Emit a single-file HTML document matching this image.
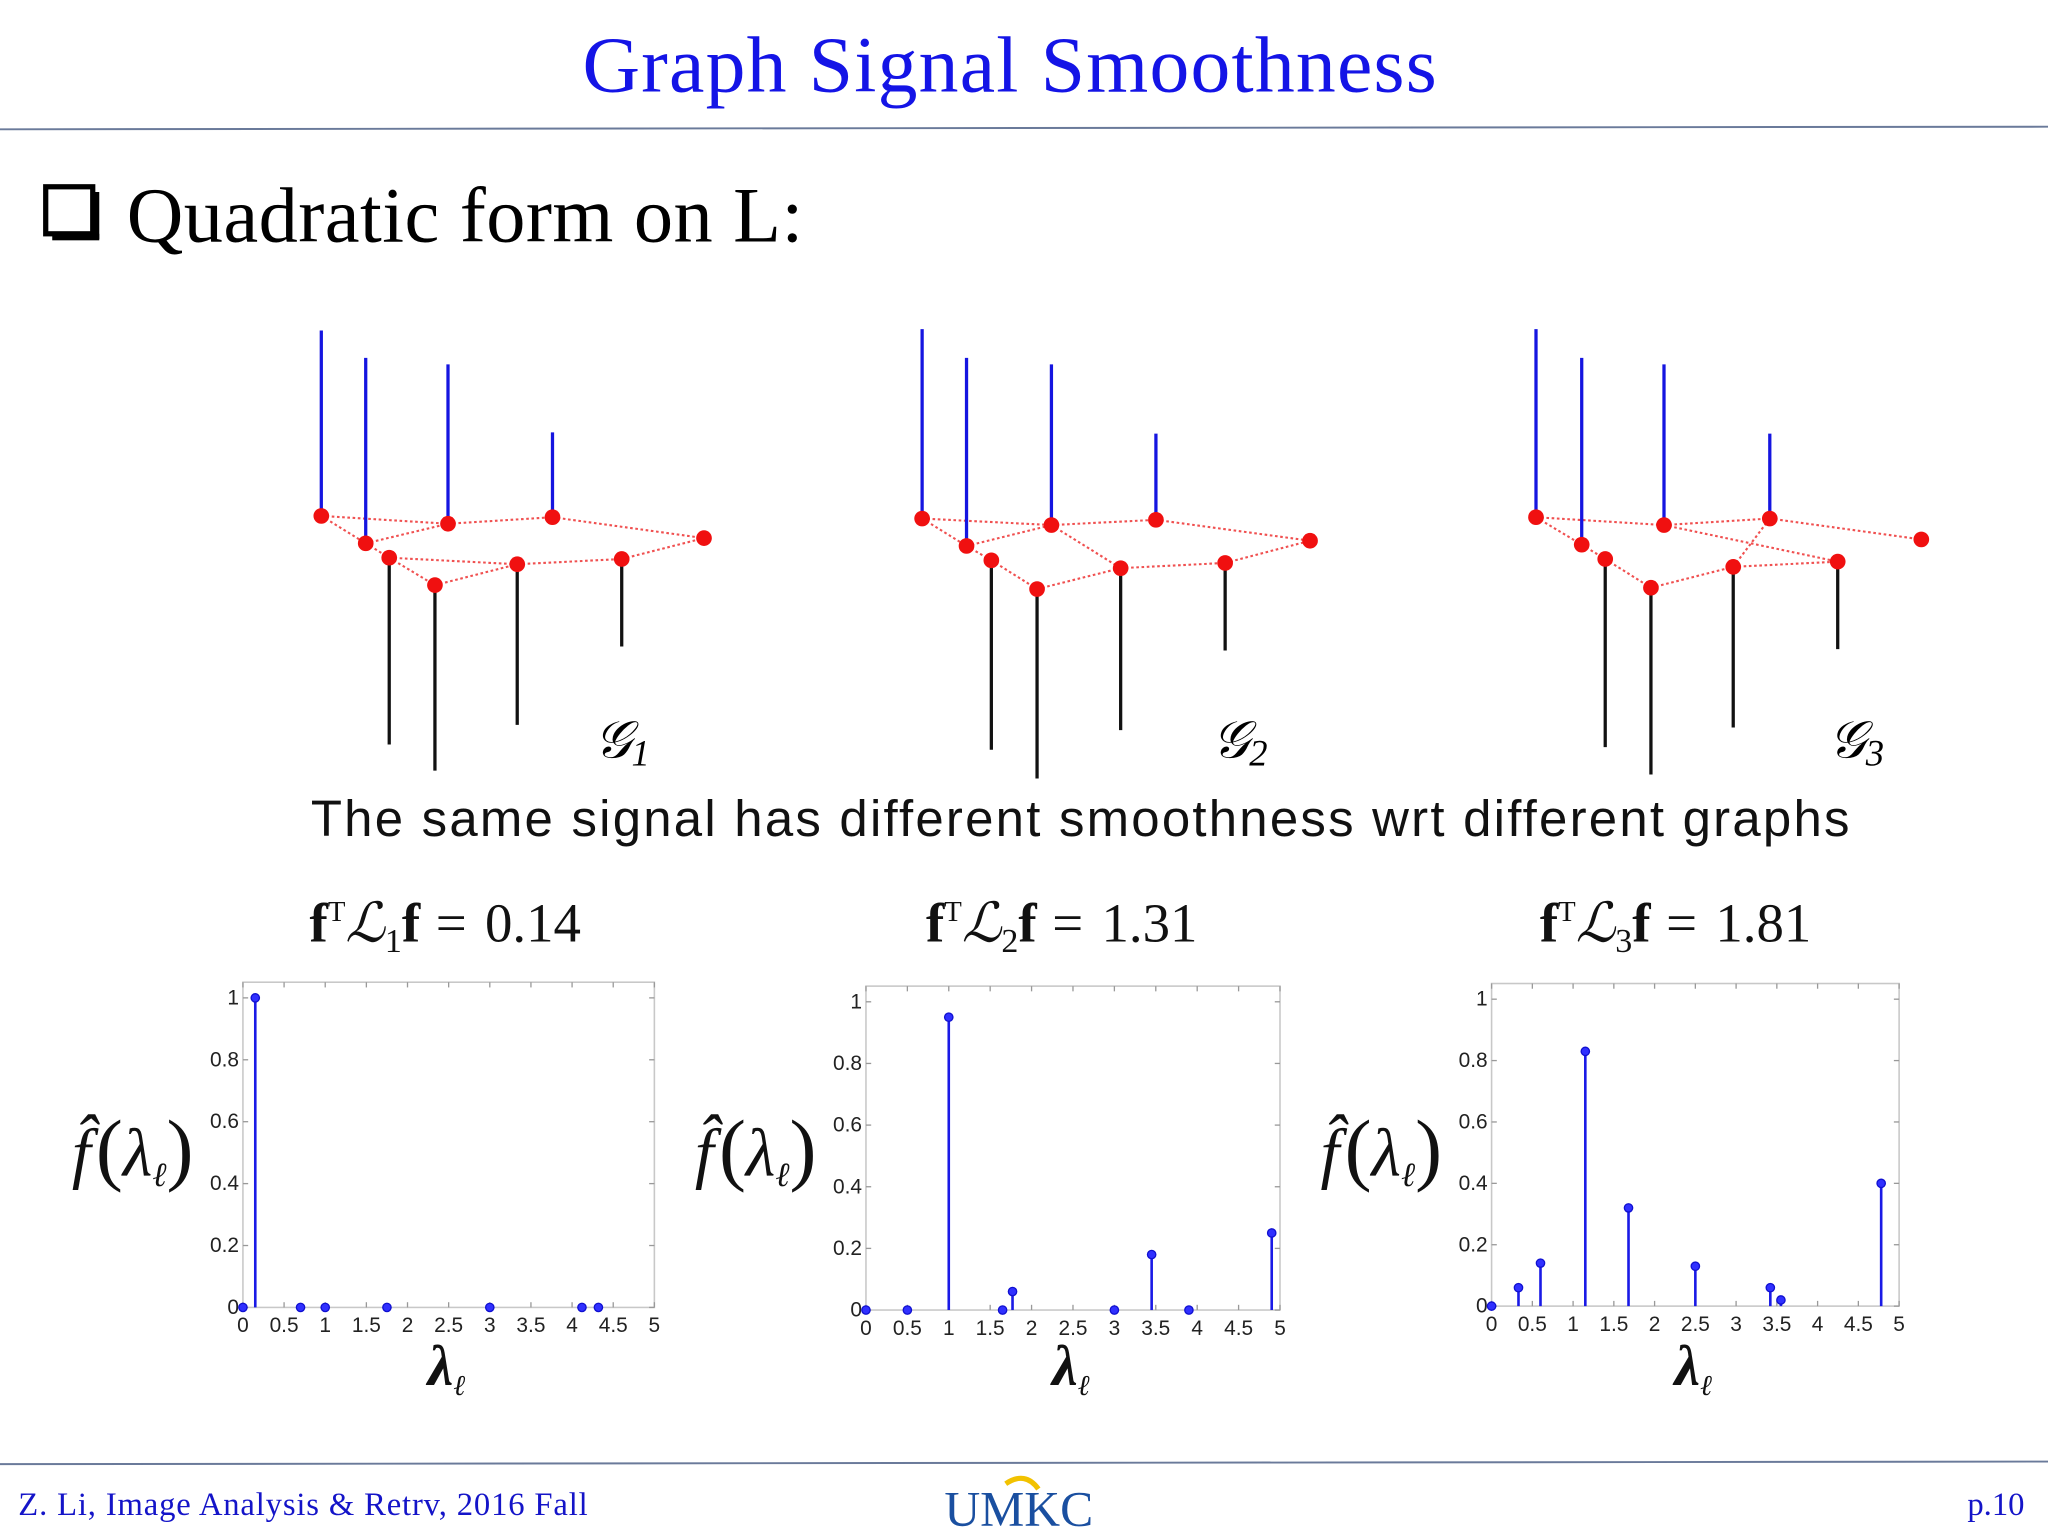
<!DOCTYPE html>
<html><head><meta charset="utf-8"><style>
html,body{margin:0;padding:0;background:#fff;}
svg{display:block;}
</style></head><body>
<svg id="page" width="2048" height="1536" viewBox="0 0 1568 1176" xmlns="http://www.w3.org/2000/svg" font-family="Liberation Sans, sans-serif">
<text x="773" y="70" text-anchor="middle" font-family="Liberation Serif, serif" font-size="61" textLength="654" fill="#1414e6">Graph Signal Smoothness</text>
<line x1="0" y1="99" x2="1568" y2="97" stroke="#6a7a9a" stroke-width="1.5"/>
<g>
<rect x="35" y="143" width="36" height="36" fill="none" stroke="#000" stroke-width="4"/>
<rect x="71" y="147" width="5" height="36" fill="#000"/><rect x="40" y="179" width="36" height="5" fill="#000"/>
</g>
<text x="97" y="185" font-family="Liberation Serif, serif" font-size="60" textLength="518" fill="#000">Quadratic form on L:</text>
<g id="graphs"></g>
<text x="455" y="580" font-family="Liberation Serif, serif" font-style="italic" font-size="40">𝒢<tspan font-size="28" dy="6">1</tspan></text>
<text x="928" y="580" font-family="Liberation Serif, serif" font-style="italic" font-size="40">𝒢<tspan font-size="28" dy="6">2</tspan></text>
<text x="1400" y="580" font-family="Liberation Serif, serif" font-style="italic" font-size="40">𝒢<tspan font-size="28" dy="6">3</tspan></text>
<text x="827" y="640" text-anchor="middle" font-size="39" textLength="1178" fill="#111">The same signal has different smoothness wrt different graphs</text>
<g font-family="Liberation Serif, serif" font-size="42" fill="#111">
<text x="237" y="721"><tspan font-weight="bold">f</tspan><tspan font-size="22" dy="-16">T</tspan><tspan dy="16" font-style="italic">ℒ</tspan><tspan font-size="26" dy="8">1</tspan><tspan dy="-8" font-weight="bold">f</tspan><tspan dx="12">=</tspan><tspan dx="14">0.14</tspan></text>
<text x="709" y="721"><tspan font-weight="bold">f</tspan><tspan font-size="22" dy="-16">T</tspan><tspan dy="16" font-style="italic">ℒ</tspan><tspan font-size="26" dy="8">2</tspan><tspan dy="-8" font-weight="bold">f</tspan><tspan dx="12">=</tspan><tspan dx="14">1.31</tspan></text>
<text x="1179" y="721"><tspan font-weight="bold">f</tspan><tspan font-size="22" dy="-16">T</tspan><tspan dy="16" font-style="italic">ℒ</tspan><tspan font-size="26" dy="8">3</tspan><tspan dy="-8" font-weight="bold">f</tspan><tspan dx="12">=</tspan><tspan dx="14">1.81</tspan></text>
</g>
<g id="charts"></g>
<line x1="0" y1="1121" x2="1568" y2="1119" stroke="#6a7a9a" stroke-width="1.5"/>
<text x="14" y="1160" font-family="Liberation Serif, serif" font-size="25" textLength="436" fill="#1414c8">Z. Li,  Image Analysis &amp; Retrv, 2016 Fall</text>
<g>
<path d="M770 1136 Q785 1126 795 1140" stroke="#f2c200" stroke-width="4" fill="none"/>
<text x="780" y="1168" text-anchor="middle" font-family="Liberation Serif, serif" font-size="38" fill="#1a4fa0">UMKC</text>
</g>
<text x="1550" y="1160" text-anchor="end" font-family="Liberation Serif, serif" font-size="25" fill="#1414c8">p.10</text>
</svg>
<script>
// ---- chart data ----
const xTickLabels = ["0","0.5","1","1.5","2","2.5","3","3.5","4","4.5","5"];
const yTickLabels = ["0","0.2","0.4","0.6","0.8","1"];
const lambda1 = [0, 0.15, 0.7, 1.0, 1.75, 3.0, 4.12, 4.32];
const fhat1   = [0, 1.0, 0, 0, 0, 0, 0, 0];
const lambda2 = [0, 0.5, 1.0, 1.65, 1.77, 3.0, 3.45, 3.9, 4.9];
const fhat2   = [0, 0, 0.95, 0, 0.06, 0, 0.18, 0, 0.25];
const lambda3 = [0, 0.33, 0.6, 1.15, 1.68, 2.5, 3.42, 3.55, 4.78];
const fhat3   = [0, 0.06, 0.14, 0.83, 0.32, 0.13, 0.06, 0.02, 0.4];

const NS="http://www.w3.org/2000/svg";
function mk(tag, attrs, parent){const e=document.createElementNS(NS,tag);for(const k in attrs)e.setAttribute(k,attrs[k]);parent.appendChild(e);return e;}

const layouts=[
 {x0:186,x1:501,y0:1001,y1:764,top:752,xs:lambda1,ys:fhat1},
 {x0:663,x1:980,y0:1003,y1:767,top:755,xs:lambda2,ys:fhat2},
 {x0:1142,x1:1454,y0:1000,y1:765,top:753,xs:lambda3,ys:fhat3}
];
const charts=document.getElementById('charts');
layouts.forEach((L,ci)=>{
  const g=mk('g',{},charts);
  
  
  const sx=v=>L.x0+(L.x1-L.x0)*v/5;
  const sy=v=>L.y0-(L.y0-L.y1)*v;
  const frame=mk('rect',{x:L.x0,y:L.top,width:L.x1-L.x0,height:L.y0-L.top,fill:'none',stroke:'#c8c8c8','stroke-width':1.2},g);
  
  
  xTickLabels.forEach((t,i)=>{
    const v=i*0.5,x=sx(v);
    mk('line',{x1:x,y1:L.y0,x2:x,y2:L.y0-4,stroke:'#999'},g);
    mk('line',{x1:x,y1:L.top,x2:x,y2:L.top+4,stroke:'#999'},g);
    const tx=mk('text',{x:x,y:L.y0+19,'text-anchor':'middle','font-size':16,fill:'#222'},g);
    
    
    tx.textContent=t;
  });
  yTickLabels.forEach((t,i)=>{
    const v=i*0.2,y=sy(v);
    mk('line',{x1:L.x0,y1:y,x2:L.x0+4,y2:y,stroke:'#999'},g);
    mk('line',{x1:L.x1,y1:y,x2:L.x1-4,y2:y,stroke:'#999'},g);
    const ty=mk('text',{x:L.x0-3,y:y+5,'text-anchor':'end','font-size':16,fill:'#222'},g);
    
    
    ty.textContent=t;
  });
  L.xs.forEach((xv,i)=>{
    const x=sx(xv),y=sy(L.ys[i]);
    const st=mk('line',{x1:x,y1:L.y0,x2:x,y2:y,stroke:'#1a1ae6','stroke-width':2},g);
    
    
    const c=mk('circle',{cx:x,cy:y,r:3.2,fill:'#3030ff',stroke:'#1010d0','stroke-width':1},g);
    
    
  });
  const yl=mk('text',{x:L.x0-131,y:900,'font-family':'Liberation Serif, serif','font-size':52,'font-style':'italic',fill:'#111'},g);
  
  
  yl.innerHTML='f̂<tspan font-style="normal" font-size="62" dx="4">(</tspan>λ<tspan font-size="26" dy="8">ℓ</tspan><tspan dy="-8" font-style="normal" font-size="62">)</tspan>';
  const xl=mk('text',{x:(L.x0+L.x1)/2-16,y:1060,'font-family':'Liberation Serif, serif','font-size':44,'font-style':'italic','font-weight':'bold',fill:'#111'},g);
  
  
  xl.innerHTML='λ<tspan font-size="22" dy="8" font-weight="normal">ℓ</tspan>';
});

// ---- graph illustrations (nodes, signal stems, edges) ----
const nodesX=[[246,280,298,333,343,396,423,476,539],[706,740,759,794,805,858,885,938,1003],[1176,1211,1229,1264,1274,1327,1355,1407,1471]];
const nodesY=[[395,416,427,448,401,432,396,428,412],[397,418,429,451,402,435,398,431,414],[396,417,428,450,402,434,397,430,413]];
const stemEnd=[[253,274,570,590,279,555,331,495,412],[252,274,574,596,279,559,332,498,414],[252,274,572,593,279,557,332,497,413]];
const edges=[
 [[0,4],[0,1],[1,4],[4,6],[6,8],[1,2],[2,5],[5,7],[3,5],[2,3],[7,8]],
 [[0,4],[0,1],[1,2],[2,3],[3,5],[5,7],[7,8],[4,5],[4,6],[6,8],[1,4]],
 [[0,4],[0,1],[1,2],[2,3],[3,5],[5,6],[4,7],[6,8],[5,7],[4,6]]
];
const G=document.getElementById('graphs');
nodesX.forEach((xs,gi)=>{
  const g=mk('g',{},G);
  
  
  edges[gi].forEach(([a,b])=>{
    const e=mk('line',{x1:xs[a],y1:nodesY[gi][a],x2:xs[b],y2:nodesY[gi][b],stroke:'#f05050','stroke-width':1.6,'stroke-dasharray':'2 2'},g);
    
    
  });
  xs.forEach((x,i)=>{
    const y=nodesY[gi][i],ye=stemEnd[gi][i];
    if(ye!==y){
      const s=mk('line',{x1:x,y1:y,x2:x,y2:ye,stroke:ye<y?'#1515e0':'#111','stroke-width':2.5},g);
      
      
    }
    const c=mk('circle',{cx:x,cy:y,r:6,fill:'#f01010'},g);
    
    
  });
});
</script>
</body></html>
